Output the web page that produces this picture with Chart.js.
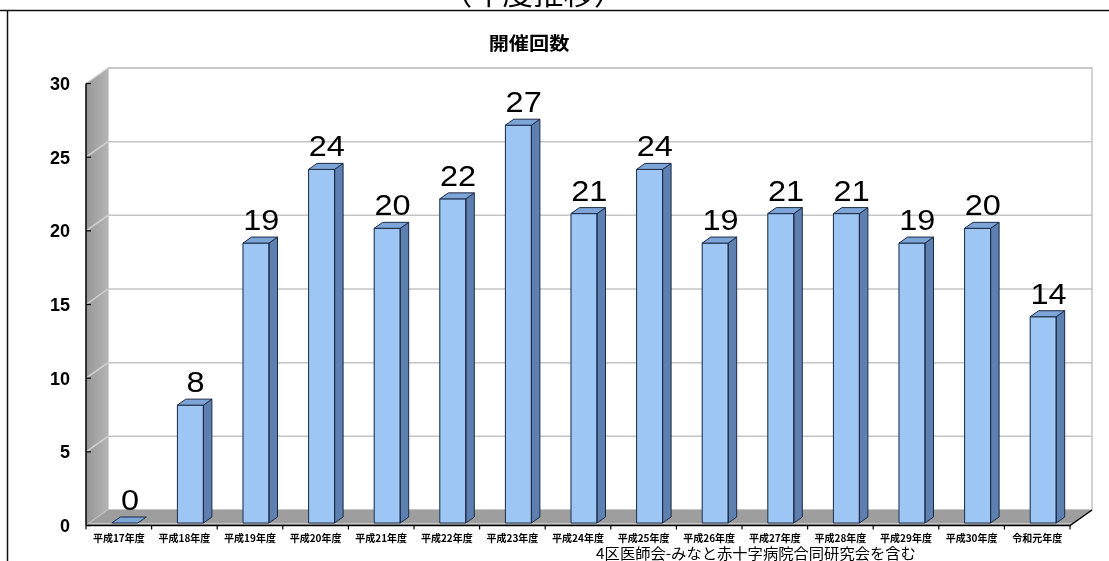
<!DOCTYPE html>
<html lang="ja">
<head>
<meta charset="utf-8">
<title>開催回数</title>
<script src="https://cdn.jsdelivr.net/npm/chart.js@4.4.1/dist/chart.umd.min.js"></script>
<style>
  html, body { margin: 0; padding: 0; background: #fff; }
  canvas { display: block; }
</style>
</head>
<body>
<canvas id="chart" width="1109" height="561"></canvas>
<script>
// Fiscal years (categories)
const categories = [
  '平成17年度', '平成18年度', '平成19年度', '平成20年度', '平成21年度',
  '平成22年度', '平成23年度', '平成24年度', '平成25年度', '平成26年度',
  '平成27年度', '平成28年度', '平成29年度', '平成30年度', '令和元年度'
];
// Number of meetings held per year
const counts = [0, 8, 19, 24, 20, 22, 27, 21, 24, 19, 21, 21, 19, 20, 14];
// Value axis
const yMin = 0;
const yMax = 30;
const yStep = 5;

const chartTitle = '開催回数';
const headerText = '（年度推移）';
const footnote = '4区医師会-みなと赤十字病院合同研究会を含む';

// Pseudo-3D geometry, offsets measured from the plane the bars stand in
const FRONT = { dx: -6, dy: 2.5 };
const BACK = { dx: 16, dy: -13 };
const BAR_DEPTH = { dx: 8.5, dy: -6 };

const COLORS = {
  face: '#9dc6f5',
  side: '#5d80b0',
  top: '#7da5d8',
  edge: '#1c2b44',
  wallDark: '#979797',
  wallLight: '#b4b4b4',
  floor: '#9e9e9e',
  wallGrid: '#d2d2d2',
  backGrid: '#c4c4c4'
};

function poly(ctx, pts, fill, stroke, lw) {
  ctx.beginPath();
  ctx.moveTo(pts[0][0], pts[0][1]);
  for (let i = 1; i < pts.length; i++) ctx.lineTo(pts[i][0], pts[i][1]);
  ctx.closePath();
  if (fill) { ctx.fillStyle = fill; ctx.fill(); }
  if (stroke) { ctx.strokeStyle = stroke; ctx.lineWidth = lw || 1; ctx.stroke(); }
}

function stretchedText(ctx, text, x, y, font, sx, align, baseline) {
  ctx.save();
  ctx.font = font;
  ctx.textAlign = align || 'center';
  ctx.textBaseline = baseline || 'alphabetic';
  ctx.translate(x, y);
  ctx.scale(sx, 1);
  ctx.fillText(text, 0, 0);
  ctx.restore();
}

// Walls, floor, axes and gridlines of the 3-D stage
const stagePlugin = {
  id: 'stage3d',
  beforeDatasetsDraw(chart) {
    const { ctx, chartArea: a, scales: { y } } = chart;
    const y0 = y.getPixelForValue(yMin);
    const yT = y.getPixelForValue(yMax);

    const fl = a.left + FRONT.dx, fr = a.right + FRONT.dx;
    const bl = a.left + BACK.dx, br = a.right + BACK.dx;
    const fy0 = y0 + FRONT.dy, fyT = yT + FRONT.dy;
    const by0 = y0 + BACK.dy, byT = yT + BACK.dy;

    ctx.save();
    // back wall
    ctx.fillStyle = '#ffffff';
    ctx.fillRect(bl, byT, br - bl, by0 - byT);
    ctx.strokeStyle = COLORS.backGrid;
    ctx.lineWidth = 1.5;
    ctx.strokeRect(bl, byT, br - bl, by0 - byT);

    // side wall, shaded from the front edge to the back edge
    const g = ctx.createLinearGradient(fl, 0, bl, 0);
    g.addColorStop(0, COLORS.wallDark);
    g.addColorStop(1, COLORS.wallLight);
    poly(ctx, [[fl, fyT], [bl, byT], [bl, by0], [fl, fy0]], g);

    // gridlines on back wall and side wall
    y.ticks.forEach(t => {
      const py = y.getPixelForValue(t.value);
      ctx.strokeStyle = COLORS.backGrid;
      ctx.lineWidth = 1.5;
      ctx.beginPath();
      ctx.moveTo(bl, py + BACK.dy);
      ctx.lineTo(br, py + BACK.dy);
      ctx.stroke();
      ctx.strokeStyle = COLORS.wallGrid;
      ctx.beginPath();
      ctx.moveTo(fl, py + FRONT.dy);
      ctx.lineTo(bl, py + BACK.dy);
      ctx.stroke();
    });

    // floor
    poly(ctx, [[fl, fy0], [bl, by0], [br, by0], [fr, fy0]], COLORS.floor);
    ctx.strokeStyle = '#c8c8c8';
    ctx.lineWidth = 1;
    ctx.beginPath();
    ctx.moveTo(fl + 3, fy0 - 2);
    ctx.lineTo(fr + 3, fy0 - 2);
    ctx.stroke();

    // value axis line with tick marks
    ctx.strokeStyle = '#000';
    ctx.lineWidth = 1.5;
    ctx.beginPath();
    ctx.moveTo(fl, fyT);
    ctx.lineTo(fl, fy0);
    ctx.stroke();
    ctx.lineWidth = 1.2;
    y.ticks.forEach(t => {
      const py = y.getPixelForValue(t.value) + FRONT.dy;
      ctx.beginPath();
      ctx.moveTo(fl, py);
      ctx.lineTo(fl + 5, py);
      ctx.stroke();
    });

    // category axis line with tick marks
    ctx.lineWidth = 1.5;
    ctx.beginPath();
    ctx.moveTo(fl, fy0);
    ctx.lineTo(fr, fy0);
    ctx.lineTo(br, by0);
    ctx.stroke();
    ctx.lineWidth = 1.2;
    const step = (a.right - a.left) / categories.length;
    for (let i = 0; i <= categories.length; i++) {
      const px = fl + i * step;
      ctx.beginPath();
      ctx.moveTo(px, fy0);
      ctx.lineTo(px, fy0 + 4);
      ctx.stroke();
    }
    ctx.restore();
  },

  afterDatasetsDraw(chart) {
    const { ctx } = chart;
    const meta = chart.getDatasetMeta(0);
    ctx.save();
    ctx.lineJoin = 'round';
    meta.data.forEach((bar, i) => {
      const { x, y, base, width } = bar.getProps(['x', 'y', 'base', 'width'], true);
      const l = x - width / 2, r = x + width / 2;
      const top = Math.min(y, base);
      const dx = BAR_DEPTH.dx, dy = BAR_DEPTH.dy;
      if (base - top > 0.5) {
        // side face
        poly(ctx, [[r, top], [r + dx, top + dy], [r + dx, base + dy], [r, base]], COLORS.side, COLORS.edge, 1);
        // front face outline
        ctx.strokeStyle = COLORS.edge;
        ctx.lineWidth = 1;
        ctx.strokeRect(l, top, width, base - top);
      }
      // top face
      poly(ctx, [[l, top], [l + dx, top + dy], [r + dx, top + dy], [r, top]], COLORS.top, COLORS.edge, 1);

      // value label
      ctx.fillStyle = '#000';
      stretchedText(ctx, String(counts[i]), x + dx / 2 + 1, top - 13,
        '29px "Liberation Sans", Arial, sans-serif', 1.12, 'center', 'alphabetic');
    });
    ctx.restore();
  },

  afterDraw(chart) {
    const { ctx } = chart;
    ctx.save();
    // outer frame lines
    ctx.strokeStyle = '#111';
    ctx.lineWidth = 1.5;
    ctx.beginPath();
    ctx.moveTo(0, 10.5);
    ctx.lineTo(1109, 10.5);
    ctx.moveTo(7.5, 10.5);
    ctx.lineTo(7.5, 561);
    ctx.stroke();

    ctx.fillStyle = '#000';
    stretchedText(ctx, headerText, 533, 5, '29px "Noto Sans CJK JP", sans-serif', 1.05, 'center', 'alphabetic');
    stretchedText(ctx, chartTitle, 529, 43, 'bold 18px "Noto Sans CJK JP", sans-serif', 1.12, 'center', 'middle');
    stretchedText(ctx, footnote, 756, 553, '15px "Noto Sans CJK JP", sans-serif', 1.02, 'center', 'middle');
    ctx.restore();
  }
};

new Chart(document.getElementById('chart'), {
  type: 'bar',
  data: {
    labels: categories,
    datasets: [{
      label: chartTitle,
      data: counts,
      backgroundColor: COLORS.face,
      borderWidth: 0,
      barThickness: 26
    }]
  },
  options: {
    responsive: false,
    animation: false,
    devicePixelRatio: 1,
    layout: { padding: { top: 81, right: 33, bottom: 0, left: 0 } },
    plugins: {
      legend: { display: false },
      title: { display: false },
      tooltip: { enabled: false }
    },
    scales: {
      x: {
        grid: { display: false, drawTicks: false },
        border: { display: false },
        afterFit(scale) { scale.height = 38; },
        ticks: {
          autoSkip: false,
          maxRotation: 0,
          minRotation: 0,
          padding: 9,
          labelOffset: -6,
          color: '#000',
          font: { family: '"Noto Sans CJK JP", sans-serif', size: 10, weight: 'bold' }
        }
      },
      y: {
        min: yMin,
        max: yMax,
        grid: { display: false, drawTicks: false },
        border: { display: false },
        afterFit(scale) { scale.width = 92; },
        ticks: {
          stepSize: yStep,
          padding: 22,
          labelOffset: 4,
          color: '#000',
          font: { family: '"Liberation Sans", Arial, sans-serif', size: 18, weight: 'bold' }
        }
      }
    }
  },
  plugins: [stagePlugin]
});
</script>
</body>
</html>
